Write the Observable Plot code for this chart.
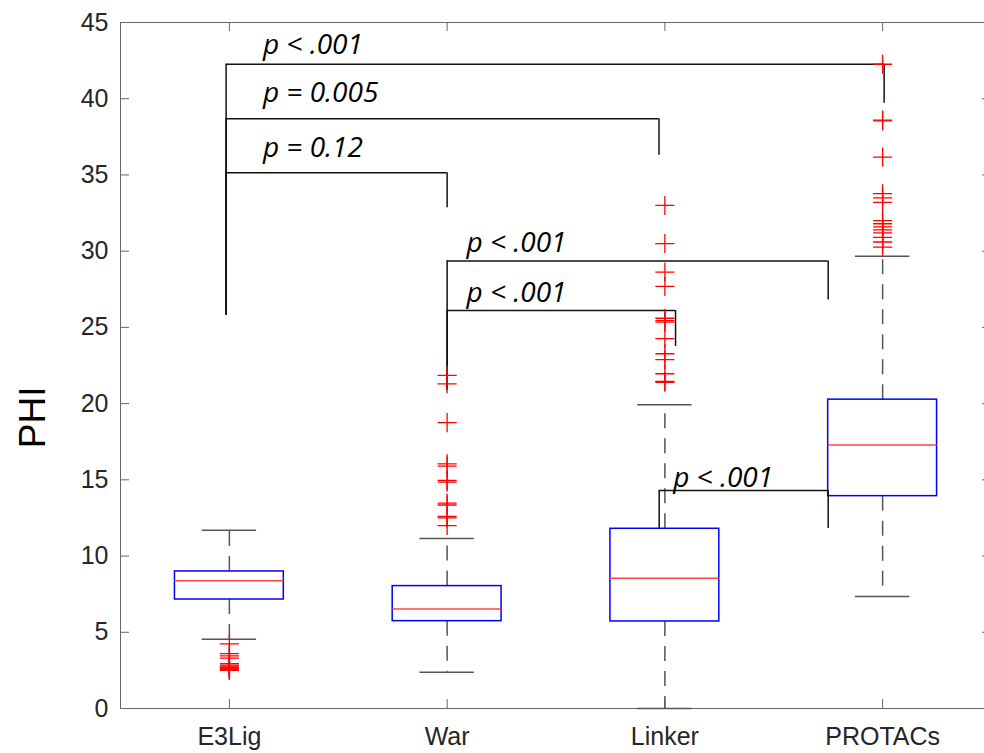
<!DOCTYPE html>
<html><head><meta charset="utf-8">
<script src="https://cdn.jsdelivr.net/npm/d3@7"></script>
<script src="https://cdn.jsdelivr.net/npm/@observablehq/plot@0.6"></script>
<style>body{margin:0;background:#fff} #chart svg{display:block}</style>
</head><body><div id="chart"></div>
<script>
// ---- data ----
const categories = ["E3Lig", "War", "Linker", "PROTACs"];
const q1 = [7.15, 5.73, 5.71, 13.93];
const medians = [8.38, 6.52, 8.55, 17.28];
const q3 = [8.99, 8.03, 11.79, 20.26];
const whiskerLow = [4.55, 2.38, 0, 7.35];
const whiskerHigh = [11.7, 11.15, 19.93, 29.66];
const outliersE3Lig = [4.24, 3.6, 3.45, 3.3, 2.95, 2.85, 2.78, 2.7, 2.65, 2.6, 2.55, 2.5];
const outliersWar = [21.85, 21.3, 18.75, 16.05, 15.9, 14.96, 14.85, 13.47, 13.35, 12.6, 12.5, 12.0];
const outliersLinker = [33.0, 30.5, 28.63, 27.69, 25.6, 25.45, 25.35, 24.26, 23.27, 22.88, 21.96, 21.45, 21.4];
const outliersPROTACs = [42.26, 38.6, 38.55, 36.17, 33.77, 33.5, 33.2, 32.0, 31.8, 31.6, 31.4, 31.2, 30.9, 30.6, 30.27];
const yTicks = [0, 5, 10, 15, 20, 25, 30, 35, 40, 45];
// significance brackets
const bracketLabels = ["p < .001", "p = 0.005", "p = 0.12", "p < .001", "p < .001", "p < .001"];
const bracketX1 = [0.985, 0.985, 0.985, 2.0, 2.0, 2.974];
const bracketX2 = [4.007, 2.973, 2.0, 3.75, 3.049, 3.75];
const bracketY = [42.26, 38.69, 35.15, 29.35, 26.1, 14.3];
const bracketLeg1End = [25.8, 25.8, 25.8, 20.87, 20.87, 11.8];
const bracketLeg2End = [39.7, 36.3, 32.85, 26.8, 23.75, 11.8];
const labelX = [1.154, 1.154, 1.154, 2.089, 2.089, 3.038];
const labelY = [42.96, 39.78, 36.17, 29.94, 26.66, 14.5];

// ---- tables ----
const boxes = categories.map((c, i) => ({cat: c, x: i + 1, q1: q1[i], med: medians[i], q3: q3[i], lo: whiskerLow[i], hi: whiskerHigh[i]}));
const outs = [outliersE3Lig, outliersWar, outliersLinker, outliersPROTACs].flatMap((arr, i) => arr.map(v => ({x: i + 1, y: v})));
const brackets = bracketLabels.map((t, i) => ({t, x1: bracketX1[i], x2: bracketX2[i], y: bracketY[i], e1: bracketLeg1End[i], e2: bracketLeg2End[i], lx: labelX[i], ly: labelY[i]}));

const tx = 9 * 4 / 871, ty = 9 * 45 / 686;
const axisColor = "#666";

const chart = Plot.plot({
  width: 984, height: 753,
  marginLeft: 120, marginRight: 0, marginTop: 22, marginBottom: 45,
  x: {domain: [0.5, 4.5], range: [120, 991]},
  y: {domain: [0, 45]},
  style: {fontFamily: "'Liberation Sans', Arial, sans-serif", color: "#262626", background: "#fff", overflow: "visible"},
  marks: [
    // frame and ticks
    Plot.ruleY([0, 45], {x1: 0.5, x2: 4.5, stroke: axisColor, strokeWidth: 1}),
    Plot.ruleX([0.5, 4.5], {y1: 0, y2: 45, stroke: axisColor, strokeWidth: 1}),
    Plot.ruleY(yTicks, {x1: 0.5, x2: 0.5 + tx, stroke: axisColor}),
    Plot.ruleY(yTicks, {x1: 4.5 - tx, x2: 4.5, stroke: axisColor}),
    Plot.ruleX([1, 2, 3, 4], {y1: 0, y2: ty, stroke: axisColor}),
    Plot.ruleX([1, 2, 3, 4], {y1: 45 - ty, y2: 45, stroke: axisColor}),
    Plot.axisY({ticks: yTicks, tickSize: 0, tickPadding: 12, fontSize: 25, label: null}),
    Plot.axisX({ticks: [1, 2, 3, 4], tickFormat: d => categories[d - 1], tickSize: 0, tickPadding: 19, fontSize: 25, label: null}),
    Plot.text(["PHI"], {x: 0.5, y: 19.1, dx: -87, rotate: -90, fontSize: 37, text: d => d, fill: "#000"}),
    // whiskers
    Plot.ruleX(boxes, {x: "x", y1: "q3", y2: "hi", stroke: "#555", strokeWidth: 1.5, strokeDasharray: "15,10"}),
    Plot.ruleX(boxes, {x: "x", y1: "q1", y2: "lo", stroke: "#555", strokeWidth: 1.5, strokeDasharray: "15,10"}),
    Plot.ruleY(boxes, {y: "hi", x1: d => d.x - 0.125, x2: d => d.x + 0.125, stroke: "#555", strokeWidth: 1.5}),
    Plot.ruleY(boxes, {y: "lo", x1: d => d.x - 0.125, x2: d => d.x + 0.125, stroke: "#555", strokeWidth: 1.5}),
    // boxes
    Plot.rect(boxes, {x1: d => d.x - 0.25, x2: d => d.x + 0.25, y1: "q1", y2: "q3", fill: "none", stroke: "#0000ff", strokeWidth: 1.5}),
    Plot.ruleY(boxes, {y: "med", x1: d => d.x - 0.25, x2: d => d.x + 0.25, stroke: "#ff4444", strokeWidth: 1.5}),
    // brackets
    Plot.ruleY(brackets, {y: "y", x1: "x1", x2: "x2", stroke: "#111", strokeWidth: 1.5}),
    Plot.ruleX(brackets, {x: "x1", y1: "y", y2: "e1", stroke: "#111", strokeWidth: 1.5}),
    Plot.ruleX(brackets, {x: "x2", y1: "y", y2: "e2", stroke: "#111", strokeWidth: 1.5}),
    Plot.text(brackets, {x: "lx", y: "ly", text: "t", textAnchor: "start", lineAnchor: "bottom", fontSize: 28, fontStyle: "italic", fontFamily: "'Open Sans', sans-serif", fill: "#000"}),
    // outliers
    Plot.dot(outs, {x: "x", y: "y", symbol: "plus", r: 6.2, stroke: "#ff0000", strokeWidth: 1.3})
  ]
});
document.getElementById("chart").appendChild(chart);
</script>
</body></html>
